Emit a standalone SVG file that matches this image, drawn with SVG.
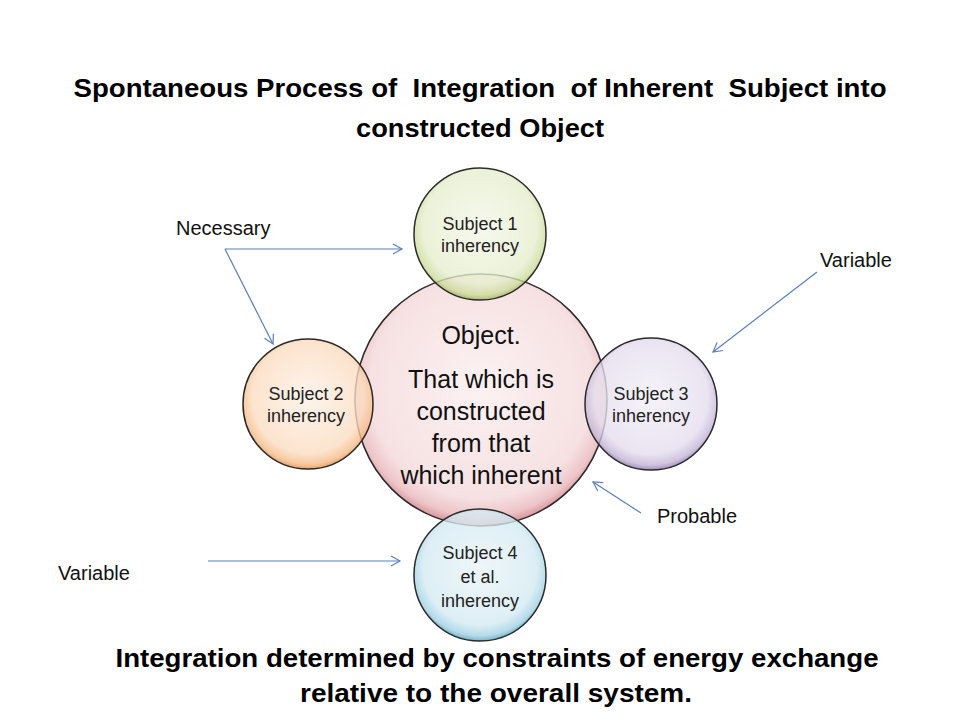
<svg xmlns="http://www.w3.org/2000/svg" width="960" height="720" viewBox="0 0 960 720">
<style>
.title{font-family:"Liberation Sans",Arial,sans-serif;font-weight:bold;font-size:25px;fill:#000;text-anchor:middle;white-space:pre}
.lbl{font-family:"Liberation Sans",Arial,sans-serif;font-size:20px;fill:#111}
.sub{font-family:"Liberation Sans",Arial,sans-serif;font-size:18px;fill:#222;text-anchor:middle}
.obj{font-family:"Liberation Sans",Arial,sans-serif;font-size:25px;fill:#111;text-anchor:middle}
.ring{stroke:#2a2a2a;stroke-width:1.5;fill-opacity:0.78}
.conn{stroke:#5a7fb8;stroke-width:1.2;fill:none}
</style>
<defs>
<marker id="ah" markerWidth="12" markerHeight="12" refX="10" refY="6" orient="auto" markerUnits="userSpaceOnUse">
<polyline points="1,1 10,6 1,11" fill="none" stroke="#5a7fb8" stroke-width="1.2"/>
</marker>
<radialGradient id="gMain" cx="50%" cy="45%" r="55%">
<stop offset="0" stop-color="#fbeeee"/><stop offset="0.8" stop-color="#f4d9da"/><stop offset="0.93" stop-color="#e8b4b8"/><stop offset="1" stop-color="#c9737c"/>
</radialGradient>
<radialGradient id="gGreen" cx="50%" cy="45%" r="55%">
<stop offset="0" stop-color="#f3f7e8"/><stop offset="0.78" stop-color="#e6eecd"/><stop offset="0.93" stop-color="#cbdb9a"/><stop offset="1" stop-color="#9bb45a"/>
</radialGradient>
<radialGradient id="gOrange" cx="50%" cy="45%" r="55%">
<stop offset="0" stop-color="#fdf1e6"/><stop offset="0.78" stop-color="#fbdcc0"/><stop offset="0.93" stop-color="#f6ba86"/><stop offset="1" stop-color="#e08a48"/>
</radialGradient>
<radialGradient id="gPurple" cx="50%" cy="45%" r="55%">
<stop offset="0" stop-color="#f2eff6"/><stop offset="0.78" stop-color="#e4ddee"/><stop offset="0.93" stop-color="#c2b3d6"/><stop offset="1" stop-color="#8a74a8"/>
</radialGradient>
<radialGradient id="gBlue" cx="50%" cy="45%" r="55%">
<stop offset="0" stop-color="#e9f4f8"/><stop offset="0.78" stop-color="#d3eaf2"/><stop offset="0.93" stop-color="#9fd0e2"/><stop offset="1" stop-color="#4c9ebd"/>
</radialGradient>
</defs>
<rect x="0" y="0" width="960" height="720" fill="#ffffff"/>
<g id="title">
<text class="title" x="480" y="97" textLength="813" lengthAdjust="spacingAndGlyphs" xml:space="preserve">Spontaneous Process of  Integration  of Inherent  Subject into</text>
<text class="title" x="480" y="137" textLength="248" lengthAdjust="spacingAndGlyphs">constructed Object</text>
</g>
<g id="object">
<circle class="ring" cx="481" cy="400" r="126" fill="url(#gMain)"/>
</g>
<g id="subject1">
<circle class="ring" cx="480" cy="234" r="66" fill="url(#gGreen)"/>
<text class="sub" x="480" y="230">Subject 1</text>
<text class="sub" x="480" y="252">inherency</text>
</g>
<g id="subject2">
<circle class="ring" cx="308" cy="404" r="65" fill="url(#gOrange)"/>
<text class="sub" x="306" y="400">Subject 2</text>
<text class="sub" x="306" y="422">inherency</text>
</g>
<g id="subject3">
<circle class="ring" cx="651" cy="404" r="66" fill="url(#gPurple)"/>
<text class="sub" x="651" y="400">Subject 3</text>
<text class="sub" x="651" y="422">inherency</text>
</g>
<g id="subject4">
<circle class="ring" cx="480" cy="575" r="66" fill="url(#gBlue)"/>
<text class="sub" x="480" y="559">Subject 4</text>
<text class="sub" x="480" y="583">et al.</text>
<text class="sub" x="480" y="607">inherency</text>
</g>
<g id="object-text">
<text class="obj" x="481" y="344">Object.</text>
<text class="obj" x="481" y="388">That which is</text>
<text class="obj" x="481" y="420">constructed</text>
<text class="obj" x="481" y="452">from that</text>
<text class="obj" x="481" y="484">which inherent</text>
</g>
<g id="connectors">
<line class="conn" x1="225" y1="249" x2="402" y2="249" marker-end="url(#ah)"/>
<line class="conn" x1="225" y1="249" x2="273" y2="344" marker-end="url(#ah)"/>
<line class="conn" x1="817" y1="272" x2="713" y2="352" marker-end="url(#ah)"/>
<line class="conn" x1="641" y1="513" x2="593" y2="482" marker-end="url(#ah)"/>
<line class="conn" x1="208" y1="561" x2="400" y2="561" marker-end="url(#ah)"/>
</g>
<g id="labels">
<text class="lbl" x="176" y="235">Necessary</text>
<text class="lbl" x="820" y="267">Variable</text>
<text class="lbl" x="657" y="523">Probable</text>
<text class="lbl" x="58" y="580">Variable</text>
</g>
<g id="caption">
<text class="title" x="497" y="667" textLength="763" lengthAdjust="spacingAndGlyphs">Integration determined by constraints of energy exchange</text>
<text class="title" x="496" y="702" textLength="392" lengthAdjust="spacingAndGlyphs">relative to the overall system.</text>
</g>
</svg>
